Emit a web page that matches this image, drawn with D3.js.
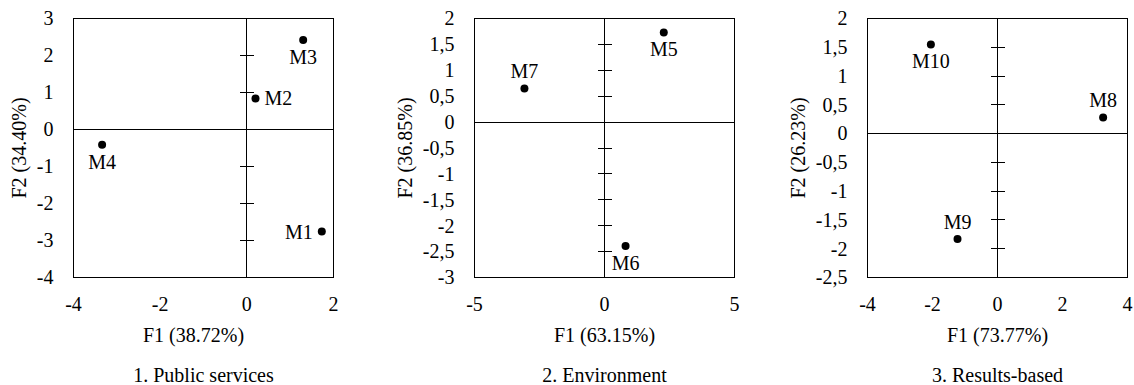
<!DOCTYPE html>
<html>
<head>
<meta charset="utf-8">
<script src="https://cdn.jsdelivr.net/npm/d3@7"></script>
<style>
  body { margin: 0; background: #fff; }
</style>
</head>
<body>
<svg id="chart" width="1134" height="385"></svg>
<script>
// panel texts
var panelTitles = ["1. Public services", "2. Environment", "3. Results-based"];
var xTitles = ["F1 (38.72%)", "F1 (63.15%)", "F1 (73.77%)"];
var yTitles = ["F2 (34.40%)", "F2 (36.85%)", "F2 (26.23%)"];

// axes
var xDomains = [[-4, 2], [-5, 5], [-4, 4]];
var yDomains = [[-4, 3], [-3, 2], [-2.5, 2]];
var xTicks = [[-4, -2, 0, 2], [-5, 0, 5], [-4, -2, 0, 2, 4]];
var yTicks = [
  [-4, -3, -2, -1, 0, 1, 2, 3],
  [-3, -2.5, -2, -1.5, -1, -0.5, 0, 0.5, 1, 1.5, 2],
  [-2.5, -2, -1.5, -1, -0.5, 0, 0.5, 1, 1.5, 2]
];

// points (factor scores)
var pointNames = [["M1", "M2", "M3", "M4"], ["M5", "M6", "M7"], ["M8", "M9", "M10"]];
var pointF1 = [[1.73, 0.20, 1.30, -3.34], [2.28, 0.81, -3.08], [3.25, -1.23, -2.05]];
var pointF2 = [[-2.76, 0.84, 2.42, -0.41], [1.73, -2.39, 0.65], [0.28, -1.83, 1.55]];
var labelSides = [["left", "right", "below", "below"], ["below", "below", "above"], ["above", "above", "below"]];

var Panels = (function() {

  var lefts = [73.5, 474.5, 867.5];
  var top = 18.5, w = 260, h = 259;
  var xTitleShift = [-10, 0, 0];

  var fmt = d3.formatLocale({ decimal: ",", thousands: ".", grouping: [3], currency: ["", ""], minus: "-" }).format("~g");

  var txt = function(sel) {
    return sel.attr("font-family", "Liberation Serif").attr("font-size", 20).attr("fill", "#000");
  };

  var line = function(sel) {
    return sel.attr("stroke", "#000").attr("stroke-width", 1).attr("fill", "none")
      .attr("shape-rendering", "crispEdges");
  };

  var draw = function(svg, i) {
    var g = svg.append("g").attr("transform", "translate(" + lefts[i] + "," + top + ")");
    var x = d3.scaleLinear().domain(xDomains[i]).range([0, w]);
    var y = d3.scaleLinear().domain(yDomains[i]).range([h, 0]);

    // frame
    g.append("rect").call(line).attr("x", 0).attr("y", 0).attr("width", w).attr("height", h);

    // zero lines
    g.append("line").call(line)
      .attr("x1", 0).attr("x2", w).attr("y1", Math.round(y(0))).attr("y2", Math.round(y(0)));
    g.append("line").call(line)
      .attr("x1", Math.round(x(0))).attr("x2", Math.round(x(0))).attr("y1", 0).attr("y2", h);

    // tick marks crossing the vertical zero line
    g.selectAll("line.tk")
      .data(yTicks[i])
      .enter()
      .append("line")
      .attr("class", "tk")
      .call(line)
      .attr("x1", Math.round(x(0)) - 7)
      .attr("x2", Math.round(x(0)) + 7)
      .attr("y1", function(d) { return Math.round(y(d)); })
      .attr("y2", function(d) { return Math.round(y(d)); });

    // y tick labels
    var yl = g.append("g");
    yl.selectAll("text")
      .data(yTicks[i])
      .enter()
      .append("text")
      .call(txt)
      .attr("x", -20)
      .attr("y", function(d) { return y(d); })
      .attr("dy", "0.34em")
      .attr("text-anchor", "end")
      .text(fmt);

    // x tick labels
    g.append("g").selectAll("text")
      .data(xTicks[i])
      .enter()
      .append("text")
      .call(txt)
      .attr("x", function(d) { return x(d); })
      .attr("y", h + 33)
      .attr("text-anchor", "middle")
      .text(fmt);

    // titles
    g.append("text").call(txt)
      .attr("x", w / 2 + xTitleShift[i])
      .attr("y", h + 64)
      .attr("text-anchor", "middle")
      .text(xTitles[i]);

    g.append("text").call(txt)
      .attr("x", w / 2)
      .attr("y", h + 104)
      .attr("text-anchor", "middle")
      .text(panelTitles[i]);

    var minX = yl.node().getBBox().x;
    g.append("text").call(txt)
      .attr("transform", "translate(" + (minX - 11) + "," + (h / 2) + ") rotate(-90)")
      .attr("text-anchor", "middle")
      .text(yTitles[i]);

    // points
    var pts = pointNames[i].map(function(n, k) {
      return { name: n, f1: pointF1[i][k], f2: pointF2[i][k], side: labelSides[i][k] };
    });

    g.selectAll("circle")
      .data(pts)
      .enter()
      .append("circle")
      .attr("cx", function(d) { return x(d.f1); })
      .attr("cy", function(d) { return y(d.f2); })
      .attr("r", 4)
      .attr("fill", "#000");

    g.selectAll("text.pl")
      .data(pts)
      .enter()
      .append("text")
      .attr("class", "pl")
      .call(txt)
      .attr("x", function(d) {
        if (d.side === "right") return x(d.f1) + 9;
        if (d.side === "left") return x(d.f1) - 9;
        return x(d.f1);
      })
      .attr("y", function(d) {
        if (d.side === "below") return y(d.f2) + 24;
        if (d.side === "above") return y(d.f2) - 10;
        return y(d.f2) + 7;
      })
      .attr("text-anchor", function(d) {
        if (d.side === "right") return "start";
        if (d.side === "left") return "end";
        return "middle";
      })
      .text(function(d) { return d.name; });
  };

  return { draw: draw };
})();

var svg = d3.select("#chart");
for (var i = 0; i < 3; i++) {
  Panels.draw(svg, i);
}
</script>
</body>
</html>
